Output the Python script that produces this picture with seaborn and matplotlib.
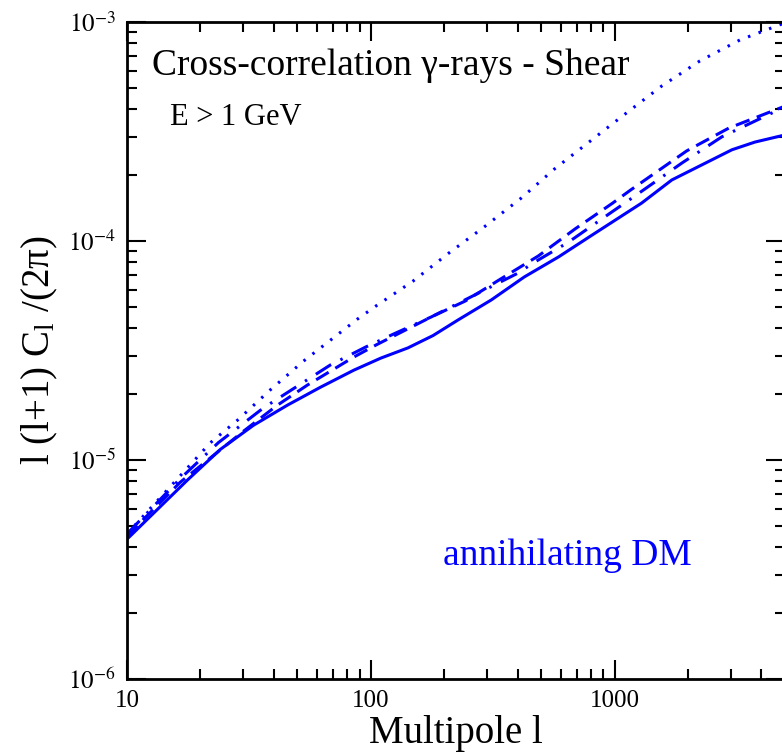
import numpy as np
import pandas as pd
import matplotlib
matplotlib.use("Agg")
import matplotlib.pyplot as plt
from matplotlib.ticker import LogLocator, NullFormatter, FixedLocator, FixedFormatter
import seaborn as sns

# Angular cross-power spectrum l(l+1)C_l/(2pi) of gamma-rays x cosmic shear, annihilating DM, E > 1 GeV
solid_l = [10, 17.7, 24.2, 33.0, 45.5, 62.2, 85.1, 110, 142, 180, 228, 312, 426, 589, 804, 1291, 1717, 3030, 3765, 5000]
solid_c = [4.35e-6, 8.1e-6, 1.12e-5, 1.44e-5, 1.78e-5, 2.15e-5, 2.57e-5, 2.92e-5, 3.25e-5, 3.7e-5, 4.36e-5, 5.38e-5,
           6.85e-5, 8.46e-5, 1.06e-4, 1.49e-4, 1.90e-4, 2.61e-4, 2.83e-4, 3.05e-4]

dashed_l = [10, 16.5, 29.7, 41.4, 55.0, 85.1, 105, 177, 244, 336, 487, 692, 982, 1164, 1977, 2945, 5000]
dashed_c = [4.5e-6, 7.9e-6, 1.34e-5, 1.78e-5, 2.20e-5, 2.95e-5, 3.35e-5, 4.5e-5, 5.32e-5, 6.64e-5, 8.55e-5,
            1.14e-4, 1.49e-4, 1.71e-4, 2.58e-4, 3.28e-4, 4.13e-4]

dashdot_l = [10, 16.5, 23.7, 36.3, 68.4, 95.3, 124, 177, 402, 464, 647, 885, 1197, 1888, 2754, 5000]
dashdot_c = [4.6e-6, 8.2e-6, 1.20e-5, 1.73e-5, 2.72e-5, 3.28e-5, 3.76e-5, 4.5e-5, 7.14e-5, 7.94e-5, 9.88e-5,
             1.26e-4, 1.59e-4, 2.27e-4, 2.99e-4, 4.1e-4]

dotted_l = [10, 16.5, 22.0, 28.4, 38.7, 53.0, 68.4, 88.4, 105, 149, 209, 292, 414, 566, 665, 1070, 1560,
            2237, 3268, 4730, 5000]
dotted_c = [4.6e-6, 8.45e-6, 1.20e-5, 1.52e-5, 2.09e-5, 2.83e-5, 3.53e-5, 4.41e-5, 5.05e-5, 6.56e-5, 8.81e-5,
            1.16e-4, 1.57e-4, 2.13e-4, 2.45e-4, 3.7e-4, 5.1e-4, 6.64e-4, 8.28e-4, 9.69e-4, 9.9e-4]

xtick_vals = [10, 100, 1000]
xtick_labels = ["10", "100", "1000"]
ytick_vals = [1e-6, 1e-5, 1e-4, 1e-3]
ytick_labels = [r"$10^{-6}$", r"$10^{-5}$", r"$10^{-4}$", r"$10^{-3}$"]

sns.set_style("ticks")
plt.rcParams["font.family"] = ["Liberation Serif", "DejaVu Serif"]
plt.rcParams["mathtext.fontset"] = "stix"
plt.rcParams["lines.scale_dashes"] = False
for key in ("text.color", "axes.labelcolor", "xtick.color", "ytick.color", "axes.edgecolor"):
    plt.rcParams[key] = "black"

fig = plt.figure(figsize=(7.82, 7.55), dpi=100)
ax = fig.add_axes([127 / 782, 76 / 755, 658 / 782, 657 / 755])

blue = "#0000ff"
lw = 2.2
series = [
    (solid_l, solid_c, "-"),
    (dashed_l, dashed_c, (0, (10.5, 5.6))),
    (dashdot_l, dashdot_c, (0, (13, 7.5, 1.8, 7.5))),
    (dotted_l, dotted_c, (0, (1.8, 6.3))),
]
for xs, ys, ls in series:
    df = pd.DataFrame({"l": xs, "cl": ys})
    sns.lineplot(data=df, x="l", y="cl", ax=ax, color=blue, linewidth=lw,
                 linestyle=ls, dash_capstyle="butt", solid_capstyle="butt",
                 estimator=None, sort=False)

ax.set_xscale("log")
ax.set_yscale("log")
ax.set_xlim(10, 5000)
ax.set_ylim(1e-6, 1e-3)

ax.xaxis.set_major_locator(FixedLocator(xtick_vals))
ax.xaxis.set_major_formatter(FixedFormatter(xtick_labels))
ax.yaxis.set_major_locator(FixedLocator(ytick_vals))
ax.yaxis.set_major_formatter(FixedFormatter(ytick_labels))
for axis in (ax.xaxis, ax.yaxis):
    axis.set_minor_locator(LogLocator(base=10, subs=np.arange(2, 10), numticks=20))
    axis.set_minor_formatter(NullFormatter())

ax.tick_params(which="major", direction="in", length=14, width=1.5, top=True, right=True,
               labelsize=18, pad=8, colors="black")
ax.tick_params(which="minor", direction="in", length=7, width=1.5, top=True, right=True)
for sp in ax.spines.values():
    sp.set_linewidth(2)
    sp.set_color("black")

ax.set_xlabel("Multipole l", fontsize=28, labelpad=2)
ax.set_ylabel(r"l (l+1) C$_\mathregular{l}$ /(2π)", fontsize=28, labelpad=6)

ax.text(0.038, 0.919, "Cross-correlation γ-rays - Shear", transform=ax.transAxes,
        fontsize=27, va="baseline", ha="left")
ax.text(0.0655, 0.843, "E > 1 GeV", transform=ax.transAxes,
        fontsize=22, va="baseline", ha="left")
ax.text(0.480, 0.1735, "annihilating DM", transform=ax.transAxes,
        fontsize=27, va="baseline", ha="left", color=blue)

fig.savefig("out.png", dpi=100)
